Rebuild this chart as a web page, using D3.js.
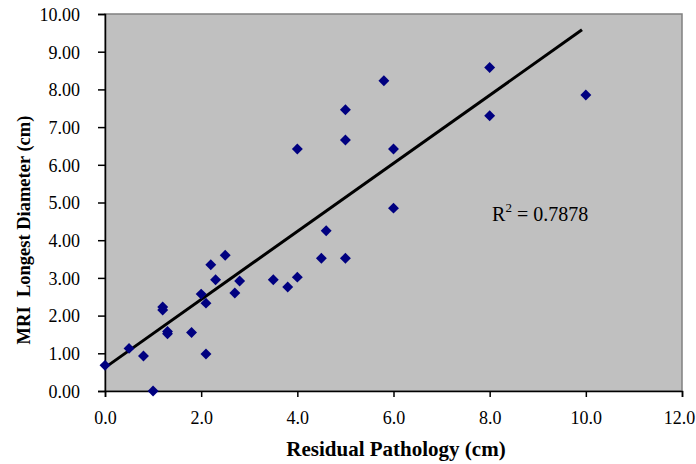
<!DOCTYPE html>
<html>
<head>
<meta charset="utf-8">
<script src="https://cdn.jsdelivr.net/npm/d3@7"></script>
<style>
  body { margin: 0; background: #fff; }
  svg { display: block; }
  text { font-family: "Liberation Serif", "Times New Roman", serif; fill: #000; }
</style>
</head>
<body>
<svg id="chart"></svg>
<script>
// residual pathology (cm) vs MRI longest diameter (cm)
const pathology = [0, 0.5, 0.8, 1.0, 1.2, 1.2, 1.3, 1.3, 1.8, 2.0, 2.1, 2.1, 2.2, 2.3, 2.5, 2.7, 2.8,
                   3.5, 3.8, 4.0, 4.0, 4.5, 4.6, 5.0, 5.0, 5.0, 5.8, 6.0, 6.0, 8.0, 8.0, 10.0];
const mri = [0.68, 1.13, 0.93, 0.0, 2.23, 2.15, 1.58, 1.52, 1.55, 2.57, 2.33, 0.98, 3.35, 2.95, 3.60, 2.60, 2.92,
             2.95, 2.76, 3.02, 6.42, 3.52, 4.25, 3.52, 6.66, 7.46, 8.23, 6.42, 4.85, 8.58, 7.30, 7.85];
const trendX = [0, 9.92];
const trendY = [0.62, 9.58];
const xTicks = [0, 2, 4, 6, 8, 10, 12];
const yTicks = [0, 1, 2, 3, 4, 5, 6, 7, 8, 9, 10];
const rSquared = "0.7878";

const w = 696, h = 464;
const padLeft = 105, padRight = 682, padTop = 14, padBottom = 391;

const svg = d3.select("#chart").attr("width", w).attr("height", h);

const xScale = d3.scaleLinear().domain([0, 12]).range([padLeft, padRight]);
const yScale = d3.scaleLinear().domain([0, 10]).range([padBottom, padTop]);

// plot area
svg.append("rect")
   .attr("x", padLeft).attr("y", padTop)
   .attr("width", padRight - padLeft).attr("height", padBottom - padTop)
   .attr("fill", "#c0c0c0")
   .attr("stroke", "#808080")
   .attr("stroke-width", 1.5);

// axes
const axisX = d3.axisBottom(xScale).tickValues(xTicks).tickFormat(d3.format(".1f")).tickSizeOuter(0).tickSize(6);
const axisY = d3.axisLeft(yScale).tickValues(yTicks).tickFormat(d3.format(".2f")).tickSizeOuter(0).tickSize(7);

const gx = svg.append("g").attr("transform", `translate(0, ${padBottom})`).call(axisX);
const gy = svg.append("g").attr("transform", `translate(${padLeft}, 0)`).call(axisY);

[gx, gy].forEach(g => {
  g.select(".domain").attr("stroke", "#000").attr("stroke-width", 1.5);
  g.selectAll(".tick line").attr("stroke", "#000").attr("stroke-width", 1.5);
  g.selectAll("text").attr("font-family", "Liberation Serif").attr("font-size", 18).attr("fill", "#000");
});
gx.selectAll("text").attr("dy", "1.35em");
// last label sits against the right edge, like the original
gx.selectAll("text").filter(d => d === 12).attr("x", -3);
gy.selectAll("text").attr("x", -25).attr("dy", "0.35em");

// trendline
svg.append("line")
   .attr("x1", xScale(trendX[0])).attr("y1", yScale(trendY[0]))
   .attr("x2", xScale(trendX[1])).attr("y2", yScale(trendY[1]))
   .attr("stroke", "#000")
   .attr("stroke-width", 3);

// points
svg.selectAll(".pt")
   .data(pathology)
   .enter()
   .append("path")
   .attr("class", "pt")
   .attr("d", d3.symbol().type(d3.symbolDiamond2).size(76))
   .attr("transform", (d, i) => `translate(${xScale(d)}, ${yScale(mri[i])})`)
   .attr("fill", "#000080");

// r squared
const rt = svg.append("text")
   .attr("x", xScale(8.05)).attr("y", yScale(4.52))
   .attr("font-size", 20);
rt.append("tspan").text("R");
rt.append("tspan").attr("font-size", 13).attr("dy", -9).text("2");
rt.append("tspan").attr("dy", 9).text(" = " + rSquared);

// axis titles
svg.append("text")
   .attr("x", 396).attr("y", 456)
   .attr("text-anchor", "middle")
   .attr("font-weight", "bold")
   .attr("font-size", 21)
   .text("Residual Pathology (cm)");

svg.append("text")
   .attr("transform", `translate(30, 230) rotate(-90)`)
   .attr("text-anchor", "middle")
   .attr("font-weight", "bold")
   .attr("font-size", 18.5)
   .style("white-space", "pre")
   .text("MRI  Longest Diameter (cm)");
</script>
</body>
</html>
